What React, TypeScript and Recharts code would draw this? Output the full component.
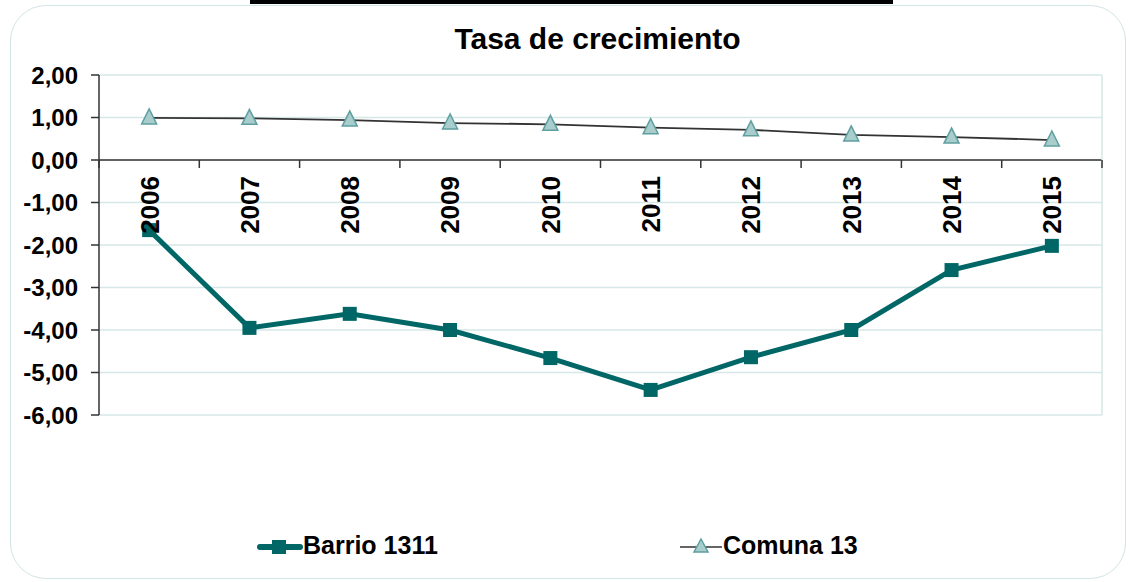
import { LineChart, Line, XAxis, YAxis, CartesianGrid, ReferenceLine } from 'recharts';

// Tasa de crecimiento por año
const years = ['2006', '2007', '2008', '2009', '2010', '2011', '2012', '2013', '2014', '2015'];
const barrio1311 = [-1.65, -3.95, -3.62, -4.0, -4.66, -5.41, -4.64, -4.0, -2.59, -2.02];
const comuna13 = [0.99, 0.98, 0.94, 0.87, 0.84, 0.76, 0.71, 0.59, 0.54, 0.47];
const yTicks = [2, 1, 0, -1, -2, -3, -4, -5, -6];

const data = years.map((year, i) => ({
  year,
  barrio: barrio1311[i],
  comuna: comuna13[i],
}));

const FONT = '"Liberation Sans", Arial, sans-serif';
const TEAL = '#006666';
const GRID = '#d6e7e7';

// plot geometry (used for the crossing x axis)
const W = 1133;
const H = 582;
const TOP = 75;
const LEFT = 99;
const RIGHT = 31;
const PLOT_H = 340;
const PLOT_W = W - LEFT - RIGHT;
const BAND = PLOT_W / years.length;
const Y_MAX = 2;
const Y_MIN = -6;
const ZERO_Y = TOP + (PLOT_H * Y_MAX) / (Y_MAX - Y_MIN);

const fmt = (v: number) => v.toFixed(2).replace('.', ',');

const YearTick = (props: any) => {
  const { x, payload, index } = props;
  const ly = ZERO_Y + 16;
  return (
    <g>
      <line x1={x - BAND / 2} y1={ZERO_Y} x2={x - BAND / 2} y2={ZERO_Y + 8} stroke="#333" strokeWidth={1.5} />
      {index === years.length - 1 && (
        <line x1={x + BAND / 2} y1={ZERO_Y} x2={x + BAND / 2} y2={ZERO_Y + 8} stroke="#333" strokeWidth={1.5} />
      )}
      <text
        x={x}
        y={ly}
        dy="0.36em"
        transform={`rotate(-90 ${x} ${ly})`}
        textAnchor="end"
        fontFamily={FONT}
        fontWeight="bold"
        fontSize={26}
        fill="#000"
      >
        {payload.value}
      </text>
    </g>
  );
};

const SquareDot = (props: any) => {
  const { cx, cy } = props;
  if (cx == null || cy == null) return null;
  return <rect x={cx - 7} y={cy - 7} width={14} height={14} fill={TEAL} />;
};

const TriangleDot = (props: any) => {
  const { cx, cy } = props;
  if (cx == null || cy == null) return null;
  return (
    <polygon
      points={`${cx},${cy - 9} ${cx - 7.5},${cy + 6} ${cx + 7.5},${cy + 6}`}
      fill="#a9cdcd"
      stroke="#5f9fa0"
      strokeWidth={1.5}
    />
  );
};

const ChartLegend = () => (
  <div style={{ position: 'absolute', left: 0, top: 530, width: W, height: 36, fontFamily: FONT, fontWeight: 'bold', fontSize: 25, color: '#000' }}>
    <svg style={{ position: 'absolute', left: 255, top: 5 }} width={50} height={24}>
      <line x1={5} y1={12} x2={45} y2={12} stroke={TEAL} strokeWidth={6} strokeLinecap="round" />
      <rect x={17} y={5} width={14} height={14} fill={TEAL} />
    </svg>
    <span style={{ position: 'absolute', left: 303, top: 1 }}>Barrio 1311</span>
    <svg style={{ position: 'absolute', left: 678, top: 5 }} width={46} height={24}>
      <line x1={2} y1={12} x2={44} y2={12} stroke="#333" strokeWidth={1.5} />
      <polygon points="23,4 16,17 30,17" fill="#a9cdcd" stroke="#5f9fa0" strokeWidth={1.5} />
    </svg>
    <span style={{ position: 'absolute', left: 723, top: 1 }}>Comuna 13</span>
  </div>
);

export default function App() {
  return (
    <div style={{ position: 'absolute', left: 0, top: 0, width: W, height: H, background: '#fff', overflow: 'hidden' }}>
      <div style={{ position: 'absolute', left: 250, top: 0, width: 643, height: 4, background: '#000' }} />
      <div
        style={{
          position: 'absolute',
          left: 10,
          top: 5,
          width: 1114,
          height: 572,
          border: '1.5px solid #d3e4e4',
          borderRadius: 36,
        }}
      />
      <div
        style={{
          position: 'absolute',
          left: 0,
          top: 22,
          width: 1195,
          textAlign: 'center',
          fontFamily: FONT,
          fontWeight: 'bold',
          fontSize: 30,
          color: '#000',
        }}
      >
        Tasa de crecimiento
      </div>
      <div style={{ position: 'absolute', left: 0, top: 0 }}>
        <LineChart
          width={W}
          height={H}
          data={data}
          margin={{ top: TOP, right: RIGHT - 1, bottom: H - TOP - PLOT_H - 30, left: LEFT - 90 }}
        >
          <CartesianGrid vertical={false} stroke={GRID} strokeWidth={1.5} />
          <XAxis
            dataKey="year"
            height={30}
            axisLine={false}
            tickLine={false}
            tick={<YearTick />}
            interval={0}
            padding={{ left: BAND / 2, right: BAND / 2 }}
          />
          <YAxis
            domain={[Y_MIN, Y_MAX]}
            ticks={yTicks}
            interval={0}
            width={90}
            tickFormatter={fmt}
            axisLine={{ stroke: '#333', strokeWidth: 1.5 }}
            tickLine={{ stroke: '#333', strokeWidth: 1.5 }}
            tickSize={8}
            tickMargin={13}
            tick={{ fontFamily: FONT, fontWeight: 'bold', fontSize: 24, fill: '#000' }}
          />
          <YAxis
            yAxisId="r"
            orientation="right"
            domain={[Y_MIN, Y_MAX]}
            width={1}
            tick={false}
            tickLine={false}
            axisLine={{ stroke: GRID, strokeWidth: 1.5 }}
          />
          <ReferenceLine y={0} stroke="#333" strokeWidth={1.5} />
          <Line
            dataKey="comuna"
            name="Comuna 13"
            stroke="#333"
            strokeWidth={1.8}
            dot={<TriangleDot />}
            isAnimationActive={false}
          />
          <Line
            dataKey="barrio"
            name="Barrio 1311"
            stroke={TEAL}
            strokeWidth={5}
            dot={<SquareDot />}
            isAnimationActive={false}
          />
        </LineChart>
      </div>
      <ChartLegend />
    </div>
  );
}
